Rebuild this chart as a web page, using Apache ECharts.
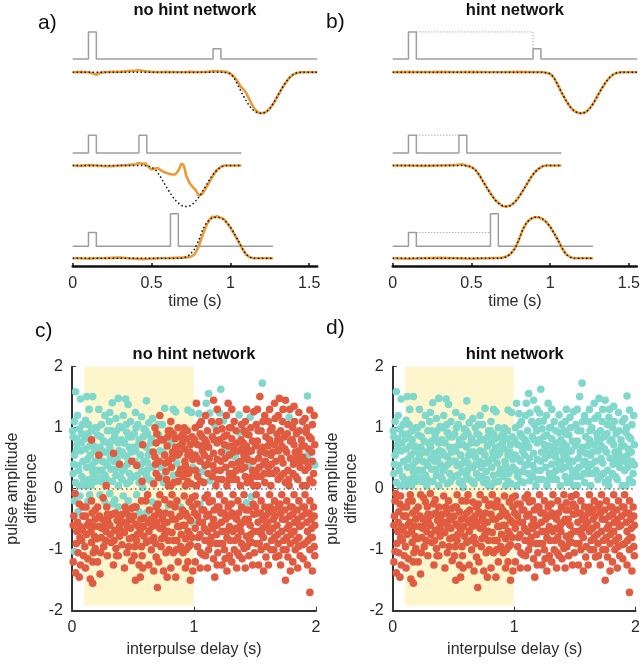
<!DOCTYPE html>
<html><head><meta charset="utf-8">
<script src="https://cdn.jsdelivr.net/npm/echarts@6/dist/echarts.min.js"></script>
<style>html,body{margin:0;padding:0;background:#fff}#c{width:643px;height:664px}</style>
</head><body><div id="c"></div>
<script>
// ---------------- data: top panels (traces) ----------------
const timeMax = 1.55;
const timeTicks = [0, 0.5, 1, 1.5];
const rowEnd = [1.55, 1.07, 1.27];
const pulseStart = [[0.10, 0.89], [0.10, 0.42], [0.10, 0.62]];
const pulseWidth = 0.05;
const pulseAmp = [[0.82, 0.31], [0.54, 0.54], [0.42, 0.99]];

const target1 = [[0,0],[0.95,0],[0.975,-0.01],[1.0,-0.04],[1.025,-0.15],[1.05,-0.33],[1.075,-0.52],[1.1,-0.69],[1.125,-0.84],[1.15,-0.94],[1.175,-0.99],[1.2,-1.0],[1.225,-0.97],[1.25,-0.88],[1.275,-0.74],[1.3,-0.57],[1.325,-0.4],[1.35,-0.25],[1.375,-0.13],[1.4,-0.05],[1.425,-0.01],[1.45,0],[1.55,0]];
const target2 = [[0,0],[0.45,0],[0.475,-0.01],[0.5,-0.04],[0.525,-0.11],[0.55,-0.24],[0.575,-0.4],[0.6,-0.56],[0.625,-0.71],[0.65,-0.84],[0.675,-0.93],[0.7,-0.99],[0.725,-1.0],[0.75,-0.97],[0.775,-0.89],[0.8,-0.77],[0.825,-0.62],[0.85,-0.46],[0.875,-0.3],[0.9,-0.17],[0.925,-0.08],[0.95,-0.02],[0.975,0],[1.07,0]];
const target3 = [[0,0],[0.68,0],[0.7,0.01],[0.725,0.04],[0.75,0.12],[0.775,0.24],[0.8,0.45],[0.825,0.7],[0.85,0.87],[0.875,0.96],[0.9,1.0],[0.925,1.0],[0.95,0.96],[0.975,0.88],[1.0,0.76],[1.025,0.6],[1.05,0.43],[1.075,0.24],[1.1,0.1],[1.125,0.03],[1.15,0],[1.27,0]];

const noHintOut1 = [[0,0],[0.05,0.01],[0.1,0.0],[0.13,-0.03],[0.15,-0.06],[0.17,-0.02],[0.2,0.0],[0.25,0.01],[0.3,0.01],[0.35,0.03],[0.4,0.04],[0.42,0.05],[0.45,0.03],[0.5,0.01],[0.55,0.0],[0.6,0.01],[0.65,0.0],[0.7,0.0],[0.75,0.01],[0.8,0.0],[0.85,0.01],[0.9,0.03],[0.95,0.02],[0.975,0.01],[1.0,-0.03],[1.025,-0.12],[1.05,-0.25],[1.065,-0.35],[1.08,-0.4],[1.1,-0.5],[1.125,-0.7],[1.15,-0.88],[1.175,-0.98],[1.2,-1.0],[1.225,-0.97],[1.25,-0.89],[1.275,-0.75],[1.3,-0.58],[1.325,-0.41],[1.35,-0.26],[1.375,-0.13],[1.4,-0.05],[1.425,-0.01],[1.45,0],[1.5,0],[1.55,0]];
const noHintOut2 = [[0,0],[0.05,-0.01],[0.1,0.01],[0.15,0.0],[0.2,-0.02],[0.25,-0.02],[0.3,0.0],[0.35,0.01],[0.4,0.03],[0.42,0.06],[0.44,0.04],[0.46,0.05],[0.48,-0.03],[0.5,-0.1],[0.52,-0.08],[0.54,-0.06],[0.56,-0.12],[0.58,-0.16],[0.6,-0.19],[0.63,-0.22],[0.65,-0.22],[0.67,-0.12],[0.69,0.05],[0.705,0.0],[0.72,-0.25],[0.74,-0.42],[0.76,-0.52],[0.78,-0.6],[0.8,-0.74],[0.82,-0.7],[0.84,-0.58],[0.86,-0.45],[0.88,-0.31],[0.9,-0.19],[0.92,-0.09],[0.94,-0.03],[0.96,0],[1.0,0],[1.07,0]];
const noHintOut3 = [[0,0],[0.05,0],[0.1,-0.01],[0.15,0],[0.2,0],[0.25,0.01],[0.3,0.02],[0.35,0],[0.4,-0.01],[0.45,-0.02],[0.5,-0.01],[0.55,0],[0.6,0],[0.65,0.01],[0.7,0.02],[0.725,0.02],[0.75,0.04],[0.775,0.1],[0.8,0.3],[0.825,0.58],[0.85,0.82],[0.87,0.95],[0.885,1.02],[0.9,0.99],[0.915,1.03],[0.93,0.99],[0.945,0.99],[0.96,0.95],[0.975,0.88],[1.0,0.75],[1.025,0.59],[1.05,0.42],[1.075,0.24],[1.1,0.09],[1.125,0.02],[1.15,0],[1.2,0],[1.27,0]];

const hintOut1 = [[0,0],[0.1,0.01],[0.2,0],[0.3,0.01],[0.4,0],[0.5,0.01],[0.6,0],[0.7,0],[0.8,0.01],[0.9,0],[0.95,0],[0.975,-0.01],[1.0,-0.04],[1.025,-0.15],[1.05,-0.33],[1.075,-0.52],[1.1,-0.69],[1.125,-0.84],[1.15,-0.94],[1.175,-0.99],[1.2,-1.0],[1.225,-0.97],[1.25,-0.88],[1.275,-0.74],[1.3,-0.57],[1.325,-0.4],[1.35,-0.25],[1.375,-0.13],[1.4,-0.05],[1.425,-0.01],[1.45,0],[1.5,0],[1.55,0]];
const hintOut2 = [[0,0],[0.1,0],[0.2,-0.01],[0.3,0],[0.4,0.01],[0.44,0.03],[0.475,-0.01],[0.5,-0.04],[0.525,-0.11],[0.55,-0.24],[0.575,-0.4],[0.6,-0.56],[0.625,-0.71],[0.65,-0.84],[0.675,-0.93],[0.7,-0.99],[0.725,-1.0],[0.75,-0.97],[0.775,-0.89],[0.8,-0.77],[0.825,-0.62],[0.85,-0.46],[0.875,-0.3],[0.9,-0.17],[0.925,-0.08],[0.95,-0.02],[0.975,0],[1.07,0]];
const hintOut3 = [[0,0],[0.1,-0.01],[0.2,0],[0.3,0.01],[0.4,0],[0.5,-0.01],[0.6,0],[0.68,0.01],[0.7,0.02],[0.725,0.05],[0.75,0.12],[0.775,0.24],[0.8,0.45],[0.825,0.7],[0.85,0.87],[0.875,0.96],[0.9,1.0],[0.925,1.0],[0.95,0.96],[0.975,0.88],[1.0,0.76],[1.025,0.6],[1.05,0.43],[1.075,0.24],[1.1,0.1],[1.125,0.03],[1.15,0],[1.27,0]];

// ---------------- data: bottom panels (scatter) ----------------
// [interpulse delay (s), pulse amplitude difference, no-hint network choice (1 = cyan, 0 = red)]
const trials = [
[0.03,1.59,1],[0.07,1.47,1],[0.02,1.1,1],[0.06,0.98,1],[0.01,0.85,1],[0.08,0.9,1],[0.04,0.72,1],[0.07,0.62,1],[0.02,0.55,1],[0.09,0.45,1],[0.05,0.38,1],[0.01,0.25,1],[0.08,0.2,1],[0.03,0.1,1],[0.06,0.05,1],[0.04,0.82,1],
[0.02,-0.2,1],[0.06,-0.25,0],[0.09,-0.3,0],[0.05,-0.38,1],[0.01,-0.6,0],[0.07,-0.62,0],[0.04,-0.7,0],[0.08,-0.85,0],[0.02,-1.03,1],[0.05,-1.05,0],[0.01,-1.2,0],[0.07,-1.25,0],[0.03,-1.38,0],[0.06,-1.45,0],[0.09,-0.45,0],
[0.12,1.51,1],[0.17,1.51,1],[0.14,1.3,1],[0.11,1.12,1],[0.19,1.0,1],[0.13,0.9,1],[0.16,0.8,0],[0.18,0.7,1],[0.11,0.65,1],[0.15,0.55,1],[0.19,0.45,1],[0.12,0.35,1],[0.17,0.28,1],[0.14,0.15,1],[0.11,0.05,1],[0.19,0.12,1],[0.16,0.95,1],
[0.13,-0.21,1],[0.16,-0.2,0],[0.19,-0.35,0],[0.11,-0.45,0],[0.14,-0.55,0],[0.18,-0.62,0],[0.12,-0.75,0],[0.16,-0.88,0],[0.19,-0.98,0],[0.13,-1.15,0],[0.17,-1.2,0],[0.15,-1.48,0],[0.17,-1.55,0],[0.11,-1.3,0],[0.19,-0.5,0],
[0.22,1.3,1],[0.27,1.2,1],[0.24,1.05,1],[0.29,0.95,1],[0.21,0.88,1],[0.26,0.78,1],[0.23,0.68,1],[0.28,0.6,1],[0.22,0.55,0],[0.25,0.45,1],[0.29,0.38,1],[0.21,0.3,1],[0.27,0.22,1],[0.24,0.12,1],[0.28,0.05,0],[0.22,0.18,1],
[0.23,-0.1,1],[0.27,-0.22,1],[0.21,-0.3,0],[0.29,-0.42,0],[0.25,-0.5,0],[0.22,-0.62,0],[0.28,-0.7,0],[0.24,-0.8,0],[0.26,-0.95,0],[0.21,-1.2,0],[0.29,-1.1,0],[0.23,-1.4,0],[0.27,-0.58,0],
[0.33,1.41,1],[0.38,1.48,1],[0.31,1.25,1],[0.36,1.15,1],[0.39,1.02,1],[0.32,0.95,1],[0.35,0.85,1],[0.38,0.75,1],[0.31,0.68,1],[0.34,0.58,0],[0.37,0.5,1],[0.39,0.4,0],[0.32,0.32,1],[0.36,0.22,1],[0.33,0.12,1],[0.38,0.05,1],
[0.31,-0.08,1],[0.35,-0.18,1],[0.38,-0.3,1],[0.33,-0.42,0],[0.37,-0.52,0],[0.31,-0.6,0],[0.35,-0.68,0],[0.39,-0.78,0],[0.32,-0.88,0],[0.36,-0.98,0],[0.38,-1.1,0],[0.34,-1.25,0],[0.39,-0.62,0],
[0.44,1.47,1],[0.46,1.38,1],[0.42,1.2,1],[0.48,1.1,1],[0.41,1.0,1],[0.45,0.92,1],[0.49,0.85,1],[0.43,0.75,1],[0.47,0.68,1],[0.41,0.6,1],[0.45,0.52,1],[0.49,0.45,0],[0.43,0.35,1],[0.47,0.25,1],[0.41,0.15,1],[0.45,0.08,1],[0.49,0.18,1],
[0.42,-0.12,1],[0.46,-0.2,1],[0.49,-0.32,0],[0.41,-0.42,0],[0.45,-0.55,0],[0.48,-0.65,0],[0.43,-0.72,0],[0.47,-0.82,0],[0.41,-0.92,0],[0.45,-1.05,0],[0.49,-1.18,0],[0.43,-1.3,0],[0.47,-0.45,0],
[0.52,1.25,1],[0.57,1.18,1],[0.54,1.05,1],[0.59,0.98,1],[0.51,0.9,1],[0.55,0.8,1],[0.58,0.72,0],[0.52,0.62,1],[0.56,0.55,1],[0.59,0.45,1],[0.53,0.38,0],[0.57,0.28,1],[0.51,0.2,1],[0.55,0.1,1],[0.58,0.02,1],
[0.53,-0.1,1],[0.57,-0.2,0],[0.51,-0.3,0],[0.55,-0.38,1],[0.59,-0.48,0],[0.52,-0.58,0],[0.56,-0.68,0],[0.59,-0.78,0],[0.53,-0.85,0],[0.57,-0.95,0],[0.51,-1.1,0],[0.55,-1.25,0],[0.52,-1.5,0],[0.56,-1.45,0],[0.58,-1.3,0],
[0.61,1.44,1],[0.66,1.15,1],[0.63,1.08,1],[0.68,1.0,0],[0.62,0.9,1],[0.65,0.82,1],[0.69,0.75,0],[0.61,0.68,1],[0.64,0.6,1],[0.68,0.52,0],[0.62,0.42,1],[0.66,0.35,1],[0.69,0.25,0],[0.63,0.15,1],[0.67,0.08,0],[0.61,0.22,1],
[0.62,-0.1,0],[0.66,-0.22,1],[0.69,-0.3,0],[0.61,-0.4,1],[0.65,-0.5,0],[0.68,-0.6,0],[0.63,-0.7,0],[0.67,-0.8,0],[0.61,-0.88,0],[0.65,-1.0,0],[0.69,-1.12,0],[0.63,-1.25,0],[0.67,-1.35,0],
[0.72,1.2,0],[0.76,1.32,1],[0.74,1.05,1],[0.79,0.95,0],[0.71,0.88,1],[0.75,0.8,0],[0.78,0.7,0],[0.72,0.62,1],[0.76,0.55,0],[0.79,0.45,0],[0.73,0.35,1],[0.77,0.28,0],[0.71,0.18,0],[0.75,0.1,1],[0.79,0.05,0],
[0.72,-0.1,0],[0.76,-0.18,0],[0.79,-0.28,1],[0.71,-0.38,0],[0.74,-0.48,0],[0.78,-0.55,0],[0.72,-0.65,0],[0.76,-0.75,0],[0.79,-0.85,0],[0.73,-0.95,0],[0.77,-1.05,0],[0.71,-1.2,0],[0.75,-1.35,0],[0.7,-1.62,0],[0.78,-1.45,0],
[0.83,1.3,1],[0.85,1.26,1],[0.81,1.1,0],[0.87,1.0,0],[0.83,0.9,0],[0.89,0.85,0],[0.81,0.75,1],[0.85,0.68,0],[0.88,0.58,0],[0.82,0.5,0],[0.86,0.42,1],[0.89,0.32,0],[0.83,0.22,1],[0.87,0.12,0],[0.81,0.05,0],
[0.82,-0.1,0],[0.86,-0.2,0],[0.89,-0.3,1],[0.81,-0.42,0],[0.85,-0.5,0],[0.88,-0.62,0],[0.82,-0.72,0],[0.86,-0.85,0],[0.89,-0.95,0],[0.83,-1.05,0],[0.87,-1.2,0],[0.81,-1.3,0],[0.85,-1.45,0],
[0.92,1.0,0],[0.98,1.25,1],[0.95,1.29,1],[0.91,0.9,0],[0.94,0.82,0],[0.97,0.72,0],[0.92,0.65,0],[0.95,0.55,0],[0.99,0.48,0],[0.93,0.38,0],[0.97,0.3,0],[0.91,0.2,0],[0.95,0.12,0],[0.99,0.35,1],[0.93,0.05,0],
[0.92,-0.12,0],[0.96,-0.22,0],[0.99,-0.3,0],[0.93,-0.4,0],[0.97,-0.52,0],[0.91,-0.6,0],[0.95,-0.7,0],[0.99,-0.56,1],[0.93,-0.82,0],[0.97,-0.92,0],[0.91,-1.05,0],[0.95,-1.2,0],[0.99,-1.35,0],[0.97,-1.5,0],[0.93,-1.3,0],
[1.04,1.23,1],[1.07,0.28,1],[1.02,1.4,0],[1.06,1.1,0],[1.01,1.0,0],[1.05,0.9,0],[1.09,0.8,0],[1.03,0.72,0],[1.07,0.62,0],[1.01,0.55,0],[1.05,0.45,0],[1.09,0.38,0],[1.03,0.2,0],[1.08,0.1,0],[1.02,0.05,0],[1.06,0.7,0],
[1.05,-0.25,1],[1.01,-0.12,0],[1.08,-0.35,0],[1.03,-0.45,0],[1.07,-0.55,0],[1.01,-0.65,0],[1.05,-0.75,0],[1.09,-0.85,0],[1.03,-0.95,0],[1.07,-1.08,0],[1.01,-1.2,0],[1.05,-1.3,0],[1.09,-0.15,0],
[1.12,1.56,1],[1.1,1.4,1],[1.13,1.24,1],[1.17,1.04,1],[1.16,1.45,0],[1.19,1.3,0],[1.11,0.95,0],[1.15,0.85,0],[1.19,0.75,0],[1.12,0.68,0],[1.16,0.58,0],[1.19,0.48,0],[1.13,0.13,1],[1.17,0.3,0],[1.11,0.4,0],[1.15,0.2,0],[1.18,0.05,0],
[1.11,-0.1,0],[1.15,-0.2,0],[1.19,-0.3,0],[1.12,-0.42,0],[1.16,-0.5,0],[1.19,-0.6,0],[1.11,-0.7,0],[1.14,-0.8,0],[1.18,-0.9,0],[1.12,-1.0,0],[1.16,-1.15,0],[1.11,-1.3,0],[1.17,-1.45,0],[1.19,-1.25,0],
[1.22,1.63,1],[1.21,1.24,1],[1.24,1.11,1],[1.26,0.62,1],[1.28,1.4,0],[1.23,0.98,0],[1.27,0.88,0],[1.21,0.8,0],[1.25,0.72,0],[1.29,0.55,0],[1.22,0.45,0],[1.26,0.35,0],[1.29,0.25,0],[1.23,0.15,0],[1.27,0.05,0],[1.29,1.0,0],
[1.21,-0.1,0],[1.25,-0.2,0],[1.28,-0.3,0],[1.22,-0.4,0],[1.26,-0.5,0],[1.29,-0.62,0],[1.23,-0.7,0],[1.27,-0.8,0],[1.21,-0.9,0],[1.25,-1.0,0],[1.29,-1.1,0],[1.23,-1.25,0],[1.27,-1.35,0],
[1.37,1.21,1],[1.37,0.92,1],[1.34,0.52,1],[1.31,1.3,0],[1.33,1.1,0],[1.39,1.05,0],[1.31,0.82,0],[1.35,0.75,0],[1.39,0.65,0],[1.32,0.6,0],[1.36,0.42,0],[1.39,0.32,0],[1.32,0.25,0],[1.35,0.15,0],[1.38,0.05,0],[1.31,0.4,0],
[1.32,-0.1,0],[1.36,-0.2,0],[1.39,-0.3,0],[1.31,-0.4,0],[1.35,-0.5,0],[1.38,-0.6,0],[1.32,-0.7,0],[1.36,-0.8,0],[1.39,-0.9,0],[1.33,-1.0,0],[1.37,-1.1,0],[1.31,-1.2,0],[1.35,-1.3,0],
[1.46,1.17,1],[1.45,0.37,1],[1.49,1.26,0],[1.42,1.1,0],[1.41,0.95,0],[1.45,0.88,0],[1.48,0.78,0],[1.43,0.7,0],[1.47,0.62,0],[1.41,0.55,0],[1.44,0.48,0],[1.48,0.3,0],[1.42,0.2,0],[1.46,0.12,0],[1.49,0.05,0],[1.43,1.3,0],
[1.43,-0.23,1],[1.47,-0.13,1],[1.41,-0.1,0],[1.45,-0.35,0],[1.49,-0.42,0],[1.42,-0.5,0],[1.46,-0.6,0],[1.49,-0.7,0],[1.43,-0.78,0],[1.47,-0.88,0],[1.41,-0.98,0],[1.45,-1.1,0],[1.48,-1.25,0],[1.42,-1.3,0],
[1.56,1.73,1],[1.54,1.51,0],[1.52,1.3,0],[1.58,1.2,0],[1.51,1.05,0],[1.55,0.95,0],[1.59,0.85,0],[1.52,0.78,0],[1.56,0.68,0],[1.59,0.58,0],[1.53,0.5,0],[1.57,0.4,0],[1.51,0.3,0],[1.55,0.2,0],[1.58,0.1,0],[1.52,0.05,0],
[1.51,-0.1,0],[1.55,-0.2,0],[1.58,-0.3,0],[1.52,-0.4,0],[1.56,-0.5,0],[1.59,-0.6,0],[1.53,-0.7,0],[1.57,-0.8,0],[1.51,-0.9,0],[1.55,-1.0,0],[1.59,-1.12,0],[1.53,-1.25,0],[1.57,-1.35,0],
[1.62,1.3,0],[1.66,1.4,0],[1.69,1.2,0],[1.61,1.1,0],[1.64,1.0,0],[1.68,0.9,0],[1.62,0.8,0],[1.66,0.72,0],[1.69,0.62,0],[1.63,0.55,0],[1.67,0.45,0],[1.61,0.35,0],[1.65,0.25,0],[1.69,0.15,0],[1.63,0.05,0],
[1.62,-0.1,0],[1.66,-0.2,0],[1.69,-0.3,0],[1.61,-0.4,0],[1.65,-0.5,0],[1.68,-0.6,0],[1.62,-0.7,0],[1.66,-0.8,0],[1.69,-0.9,0],[1.63,-1.0,0],[1.67,-1.12,0],[1.61,-1.25,0],[1.65,-0.35,0],
[1.78,1.17,1],[1.7,1.48,0],[1.75,1.45,0],[1.73,1.3,0],[1.77,1.05,0],[1.71,0.95,0],[1.74,0.85,0],[1.79,0.78,0],[1.72,0.7,0],[1.76,0.6,0],[1.79,0.5,0],[1.73,0.42,0],[1.77,0.3,0],[1.71,0.2,0],[1.75,0.1,0],[1.78,0.05,0],
[1.72,-0.1,0],[1.76,-0.2,0],[1.79,-0.3,0],[1.71,-0.4,0],[1.75,-0.5,0],[1.78,-0.6,0],[1.72,-0.7,0],[1.76,-0.8,0],[1.79,-0.9,0],[1.73,-1.0,0],[1.77,-1.12,0],[1.71,-1.25,0],[1.75,-1.5,0],[1.79,-1.35,0],
[1.82,1.35,0],[1.86,1.25,0],[1.89,1.1,0],[1.81,1.0,0],[1.84,0.9,0],[1.88,0.8,0],[1.82,0.72,0],[1.86,0.62,0],[1.89,0.52,0],[1.83,0.45,0],[1.87,0.35,0],[1.81,0.25,0],[1.85,0.15,0],[1.89,0.05,0],[1.83,0.6,0],
[1.82,-0.1,0],[1.86,-0.2,0],[1.89,-0.3,0],[1.81,-0.42,0],[1.85,-0.5,0],[1.88,-0.6,0],[1.82,-0.7,0],[1.86,-0.8,0],[1.89,-0.92,0],[1.83,-1.0,0],[1.87,-1.1,0],[1.81,-1.2,0],[1.85,-1.3,0],
[1.93,1.52,1],[1.93,0.54,1],[1.99,0.39,1],[1.95,1.29,0],[1.91,1.15,0],[1.97,1.05,0],[1.92,0.92,0],[1.96,0.82,0],[1.99,0.72,0],[1.94,0.65,0],[1.98,0.25,0],[1.91,0.3,0],[1.95,0.15,0],[1.97,0.45,0],[1.92,0.05,0],
[1.91,-0.1,0],[1.95,-0.2,0],[1.98,-0.3,0],[1.92,-0.4,0],[1.96,-0.5,0],[1.99,-0.6,0],[1.93,-0.7,0],[1.97,-0.8,0],[1.91,-0.9,0],[1.95,-1.0,0],[1.99,-1.1,0],[1.93,-1.25,0],[1.97,-1.35,0],[1.95,-1.7,0],
[0.005,0.95,1],[0.035,0.62,1],[0.055,0.3,1],[0.075,0.75,1],[0.095,0.15,1],[0.015,0.4,1],[0.045,1.2,1],[0.085,1.05,1],[0.025,-0.08,0],[0.065,-0.12,1],[0.015,-0.45,0],[0.045,-0.55,0],[0.085,-0.68,0],[0.035,-0.9,0],[0.065,-0.8,0],[0.095,-1.1,0],
[0.105,0.82,1],[0.125,0.48,1],[0.145,0.7,1],[0.165,0.38,1],[0.185,0.62,1],[0.135,1.05,1],[0.175,0.2,1],[0.155,0.05,1],[0.115,-0.3,0],[0.145,-0.1,1],[0.165,-0.4,0],[0.185,-0.78,0],[0.125,-0.6,0],[0.155,-0.7,0],[0.105,-0.95,0],[0.175,-1.05,0],
[0.205,1.0,1],[0.235,0.85,1],[0.255,0.6,1],[0.275,0.42,1],[0.295,0.75,1],[0.215,0.48,1],[0.245,0.3,1],[0.285,0.15,1],[0.225,-0.45,0],[0.255,-0.15,0],[0.285,-0.3,0],[0.205,-0.82,0],[0.245,-0.65,0],[0.275,-0.85,0],[0.295,-0.55,0],[0.235,-1.05,0],
[0.305,1.1,1],[0.325,0.78,1],[0.345,0.45,1],[0.365,0.95,1],[0.385,0.62,1],[0.315,0.5,1],[0.355,0.32,1],[0.395,0.2,1],[0.335,-0.25,1],[0.305,-0.45,0],[0.355,-0.4,0],[0.375,-0.7,0],[0.395,-0.45,0],[0.315,-0.75,0],[0.345,-0.85,0],[0.365,-1.1,0],
[0.405,0.8,1],[0.425,0.55,1],[0.445,1.05,1],[0.465,0.85,1],[0.485,0.6,1],[0.415,0.3,1],[0.455,0.4,1],[0.475,0.12,1],[0.435,-0.3,0],[0.405,-0.7,0],[0.455,-0.62,0],[0.485,-0.5,0],[0.425,-0.55,0],[0.465,-0.95,0],[0.495,-0.8,0],[0.445,-0.4,0],
[0.505,0.68,1],[0.525,1.0,1],[0.545,0.72,1],[0.565,0.4,1],[0.585,0.85,1],[0.515,0.45,1],[0.535,0.22,1],[0.575,0.12,0],[0.505,-0.45,0],[0.525,-0.3,0],[0.545,-0.62,0],[0.565,-0.5,0],[0.585,-0.62,0],[0.535,-0.75,0],[0.575,-1.1,0],[0.515,-0.95,0],
[0.605,0.95,1],[0.625,0.55,1],[0.645,0.75,1],[0.665,0.6,0],[0.685,0.4,0],[0.615,0.3,1],[0.655,0.12,1],[0.695,0.9,0],[0.605,-0.2,0],[0.635,-0.35,0],[0.655,-0.62,0],[0.675,-0.45,0],[0.695,-0.55,0],[0.625,-0.55,0],[0.645,-0.85,0],[0.685,-0.9,0],
[0.705,1.05,1],[0.725,0.8,0],[0.745,0.6,1],[0.765,0.42,0],[0.785,0.85,0],[0.715,0.45,0],[0.735,0.2,1],[0.775,0.15,0],[0.705,-0.25,0],[0.725,-0.42,0],[0.745,-0.65,0],[0.765,-0.4,0],[0.785,-0.7,0],[0.735,-0.82,0],[0.755,-0.55,0],[0.795,-1.0,0],
[0.805,0.95,0],[0.825,0.6,0],[0.845,0.82,0],[0.865,0.55,0],[0.885,0.7,0],[0.815,0.35,0],[0.835,0.1,0],[0.875,0.25,0],[0.805,-0.25,0],[0.825,-0.5,0],[0.845,-0.3,0],[0.865,-0.62,0],[0.885,-0.45,0],[0.835,-0.85,0],[0.855,-1.0,0],[0.895,-0.75,0],
[0.905,0.75,0],[0.925,0.45,0],[0.945,0.95,0],[0.965,0.6,0],[0.985,0.85,0],[0.915,0.3,0],[0.955,0.25,0],[0.975,0.08,0],[0.905,-0.35,0],[0.925,-0.6,0],[0.945,-0.45,0],[0.965,-0.75,0],[0.985,-0.15,0],[0.935,-1.0,0],[0.955,-0.95,0],[0.985,-0.8,0],
[1.005,0.8,0],[1.025,0.5,0],[1.045,1.05,0],[1.065,0.85,0],[1.085,0.55,0],[1.015,0.3,0],[1.055,0.12,0],[1.095,1.2,0],[1.005,-0.4,0],[1.025,-0.25,0],[1.045,-0.55,0],[1.065,-0.35,0],[1.085,-0.65,0],[1.035,-0.8,0],[1.055,-1.05,0],[1.095,-1.1,0],
[1.105,0.75,0],[1.125,0.5,0],[1.145,1.1,0],[1.165,0.8,0],[1.185,0.95,0],[1.115,0.25,0],[1.155,0.38,0],[1.195,0.15,0],[1.105,-0.45,0],[1.125,-0.22,0],[1.145,-0.6,0],[1.165,-0.35,0],[1.185,-0.75,0],[1.135,-0.9,0],[1.155,-0.65,0],[1.195,-1.05,0],
[1.205,1.1,0],[1.225,0.6,0],[1.245,0.85,0],[1.265,1.2,0],[1.285,0.7,0],[1.215,0.3,0],[1.255,0.5,0],[1.285,0.15,0],[1.205,-0.3,0],[1.225,-0.55,0],[1.245,-0.4,0],[1.265,-0.7,0],[1.285,-0.45,0],[1.235,-0.9,0],[1.255,-1.15,0],[1.295,-0.85,0],
[1.305,1.0,0],[1.325,0.7,0],[1.345,0.95,0],[1.365,0.62,0],[1.385,0.8,0],[1.315,0.15,0],[1.345,0.3,0],[1.385,0.45,0],[1.305,-0.25,0],[1.325,-0.45,0],[1.345,-0.65,0],[1.365,-0.4,0],[1.385,-0.7,0],[1.335,-0.85,0],[1.355,-1.05,0],[1.395,-1.15,0],
[1.405,0.75,0],[1.425,0.9,0],[1.445,0.6,0],[1.465,1.0,0],[1.485,0.45,0],[1.415,0.35,0],[1.435,0.1,0],[1.475,0.2,0],[1.405,-0.55,0],[1.425,-0.35,0],[1.445,-0.5,0],[1.465,-0.75,0],[1.485,-0.25,0],[1.435,-0.95,0],[1.455,-0.85,0],[1.495,-1.05,0],
[1.505,0.7,0],[1.525,0.95,0],[1.545,0.6,0],[1.565,1.1,0],[1.585,0.45,0],[1.515,0.2,0],[1.535,0.35,0],[1.575,0.25,0],[1.505,-0.3,0],[1.525,-0.55,0],[1.545,-0.4,0],[1.565,-0.65,0],[1.585,-0.45,0],[1.535,-0.9,0],[1.555,-0.75,0],[1.595,-0.95,0],
[1.605,0.7,0],[1.625,0.95,0],[1.645,0.6,0],[1.665,1.15,0],[1.685,0.8,0],[1.615,0.25,0],[1.635,0.4,0],[1.675,0.3,0],[1.605,-0.55,0],[1.625,-0.3,0],[1.645,-0.65,0],[1.665,-0.45,0],[1.685,-0.75,0],[1.635,-0.85,0],[1.655,-1.0,0],[1.695,-1.1,0],
[1.705,0.8,0],[1.725,1.1,0],[1.745,0.65,0],[1.765,0.9,0],[1.785,1.3,0],[1.715,0.5,0],[1.735,0.25,0],[1.775,0.15,0],[1.705,-0.25,0],[1.725,-0.5,0],[1.745,-0.35,0],[1.765,-0.65,0],[1.785,-0.45,0],[1.735,-0.85,0],[1.755,-1.0,0],[1.795,-0.75,0],
[1.805,0.8,0],[1.825,1.1,0],[1.845,0.55,0],[1.865,0.95,0],[1.885,0.7,0],[1.815,0.4,0],[1.835,0.2,0],[1.875,0.45,0],[1.805,-0.3,0],[1.825,-0.55,0],[1.845,-0.35,0],[1.865,-0.62,0],[1.885,-0.45,0],[1.835,-0.85,0],[1.855,-0.95,0],[1.895,-1.15,0],
[1.905,0.7,0],[1.925,1.0,0],[1.945,0.85,0],[1.965,0.6,0],[1.985,1.2,0],[1.915,0.45,0],[1.935,0.35,0],[1.975,0.1,0],[1.905,-0.3,0],[1.925,-0.55,0],[1.945,-0.4,0],[1.965,-0.65,0],[1.985,-0.45,0],[1.935,-0.85,0],[1.955,-0.8,0],[1.985,-0.95,0]
];
const hintWindow = [0.1, 1.0];
const hintWindowY = [-1.92, 2];

// ---------------- styling ----------------
const FONT = '"Liberation Sans", Helvetica, Arial, sans-serif';
const ORANGE = '#ec9a38', GREY = '#9e9e9e', CYAN = '#7fd8cb', RED = '#e05b40', YELLOW = '#fdf6cc';
const TXT = '#2a2a2a';

const grids = [], xAxes = [], yAxes = [], series = [];
function addGrid(g, x, y) {
  const i = grids.length;
  grids.push(g);
  xAxes.push(Object.assign({ gridIndex: i }, x));
  yAxes.push(Object.assign({ gridIndex: i }, y));
  return i;
}
const hiddenX = { type: 'value', min: 0, max: timeMax, show: false };
const W = 244.4;
const pulseBase = [59, 153, 246.3], pulseH = 33;
const outBase = [72.3, 165.5, 258.3], outHalf = 41;
const targets = [target1, target2, target3];
const topPanels = [
  { left: 72.7, outputs: [noHintOut1, noHintOut2, noHintOut3], hint: false },
  { left: 392.7, outputs: [hintOut1, hintOut2, hintOut3], hint: true }
];

topPanels.forEach(p => {
  for (let r = 0; r < 3; r++) {
    const gp = addGrid({ left: p.left, top: pulseBase[r] - pulseH, width: W, height: pulseH }, hiddenX,
      { type: 'value', min: 0, max: 1, show: false });
    const [t1, t2] = pulseStart[r], [a1, a2] = pulseAmp[r];
    const pts = [[0, 0], [t1, 0], [t1, a1], [t1 + pulseWidth, a1], [t1 + pulseWidth, 0],
      [t2, 0], [t2, a2], [t2 + pulseWidth, a2], [t2 + pulseWidth, 0], [rowEnd[r], 0]];
    series.push({ type: 'line', xAxisIndex: gp, yAxisIndex: gp, data: pts, symbol: 'none', clip: false, silent: true,
      lineStyle: { color: GREY, width: 1.5 } });
    if (p.hint) {
      const d = a2 < a1 ? [[t1 + pulseWidth, a1], [t2, a1], [t2, a2]] : [[t1 + pulseWidth, a1], [t2, a1]];
      series.push({ type: 'line', xAxisIndex: gp, yAxisIndex: gp, data: d, symbol: 'none', clip: false, silent: true,
        lineStyle: { color: '#8a8a8a', width: 1, type: [1, 2] } });
    }
    const go = addGrid({ left: p.left, top: outBase[r] - outHalf, width: W, height: 2 * outHalf }, hiddenX,
      { type: 'value', min: -1, max: 1, show: false });
    series.push({ type: 'line', xAxisIndex: go, yAxisIndex: go, data: p.outputs[r], symbol: 'none', clip: false, silent: true,
      lineStyle: { color: ORANGE, width: 2.6 } });
    series.push({ type: 'line', xAxisIndex: go, yAxisIndex: go, data: targets[r], symbol: 'none', clip: false, silent: true,
      smooth: 0.3, lineStyle: { color: '#111', width: 1.5, type: [1.5, 2.5] } });
  }
  addGrid({ left: p.left, top: 226, width: W, height: 40 },
    { type: 'value', min: 0, max: timeMax, interval: 0.5,
      axisLine: { show: true, lineStyle: { color: '#111', width: 2.5 } },
      axisTick: { show: true, inside: true, length: 3, customValues: timeTicks, lineStyle: { color: '#111', width: 1.5 } },
      axisLabel: { fontSize: 16, margin: 10, color: TXT, fontFamily: FONT, customValues: timeTicks,
        formatter: v => (timeTicks.some(t => Math.abs(t - v) < 1e-6) ? String(v) : '') },
      splitLine: { show: false } },
    { type: 'value', min: 0, max: 1, show: false });
});

const scatterPanels = [
  { left: 72, isCyan: t => t[2] === 1 },
  { left: 392.7, isCyan: t => t[1] > 0 }
];
scatterPanels.forEach(p => {
  const g = addGrid({ left: p.left, top: 366.7, width: 244, height: 244 },
    { type: 'value', min: 0, max: 2, interval: 1,
      axisLine: { show: true, onZero: false, lineStyle: { color: '#333', width: 2 } },
      axisTick: { show: true, inside: true, length: 4, lineStyle: { color: '#333' } },
      axisLabel: { fontSize: 16, margin: 9, color: TXT, fontFamily: FONT },
      splitLine: { show: false } },
    { type: 'value', min: -2, max: 2, interval: 1,
      axisLine: { show: true, onZero: false, lineStyle: { color: '#333', width: 2 } },
      axisTick: { show: true, inside: true, length: 4, lineStyle: { color: '#333' } },
      axisLabel: { fontSize: 16, margin: 9, color: TXT, fontFamily: FONT },
      splitLine: { show: false } });
  const cy = trials.filter(t => p.isCyan(t)).map(t => [t[0], t[1]]);
  const rd = trials.filter(t => !p.isCyan(t)).map(t => [t[0], t[1]]);
  series.push({ type: 'scatter', xAxisIndex: g, yAxisIndex: g, data: cy, symbolSize: 7.6, silent: true,
    itemStyle: { color: CYAN, opacity: 1 },
    markArea: { silent: true, itemStyle: { color: YELLOW }, z: 1,
      data: [[{ xAxis: hintWindow[0], yAxis: hintWindowY[0] }, { xAxis: hintWindow[1], yAxis: hintWindowY[1] }]] } });
  series.push({ type: 'scatter', xAxisIndex: g, yAxisIndex: g, data: rd, symbolSize: 7.6, silent: true,
    itemStyle: { color: RED, opacity: 1 },
    markLine: { silent: true, symbol: 'none', label: { show: false },
      lineStyle: { color: '#6a6a6a', width: 1.5, type: [1.5, 3] }, data: [{ yAxis: 0 }] } });
});

function txt(text, x, y, size, opts) {
  return Object.assign({ type: 'text', x: x, y: y, silent: true,
    style: Object.assign({ text: text, fontSize: size, fontFamily: FONT, fill: '#111',
      textAlign: 'center', textVerticalAlign: 'middle' }, (opts && opts.style) || {}) },
    (opts && opts.el) || {});
}
const graphics = [
  txt('no hint network', 194.9, 10, 16.5, { style: { fontWeight: 'bold' } }),
  txt('hint network', 514.9, 10, 16.5, { style: { fontWeight: 'bold' } }),
  txt('time (s)', 194.9, 302, 16, { style: { fill: TXT } }),
  txt('time (s)', 514.9, 302, 16, { style: { fill: TXT } }),
  txt('no hint network', 194, 354, 16.5, { style: { fontWeight: 'bold' } }),
  txt('hint network', 514.7, 354, 16.5, { style: { fontWeight: 'bold' } }),
  txt('interpulse delay (s)', 194, 650, 16, { style: { fill: TXT } }),
  txt('interpulse delay (s)', 514.7, 650, 16, { style: { fill: TXT } }),
  txt('pulse amplitude\ndifference', 22, 488.7, 16, { style: { fill: TXT, lineHeight: 19 }, el: { rotation: Math.PI / 2 } }),
  txt('pulse amplitude\ndifference', 342.5, 488.7, 16, { style: { fill: TXT, lineHeight: 19 }, el: { rotation: Math.PI / 2 } }),
  txt('a)', 38, 23, 21, { style: { textAlign: 'left' } }),
  txt('b)', 326, 22, 21, { style: { textAlign: 'left' } }),
  txt('c)', 35, 331, 21, { style: { textAlign: 'left' } }),
  txt('d)', 326, 328, 21, { style: { textAlign: 'left' } })
];

const chart = echarts.init(document.getElementById('c'), null, { renderer: 'canvas' });
chart.setOption({
  animation: false,
  backgroundColor: '#fff',
  grid: grids, xAxis: xAxes, yAxis: yAxes, series: series,
  graphic: { elements: graphics }
});
</script></body></html>
